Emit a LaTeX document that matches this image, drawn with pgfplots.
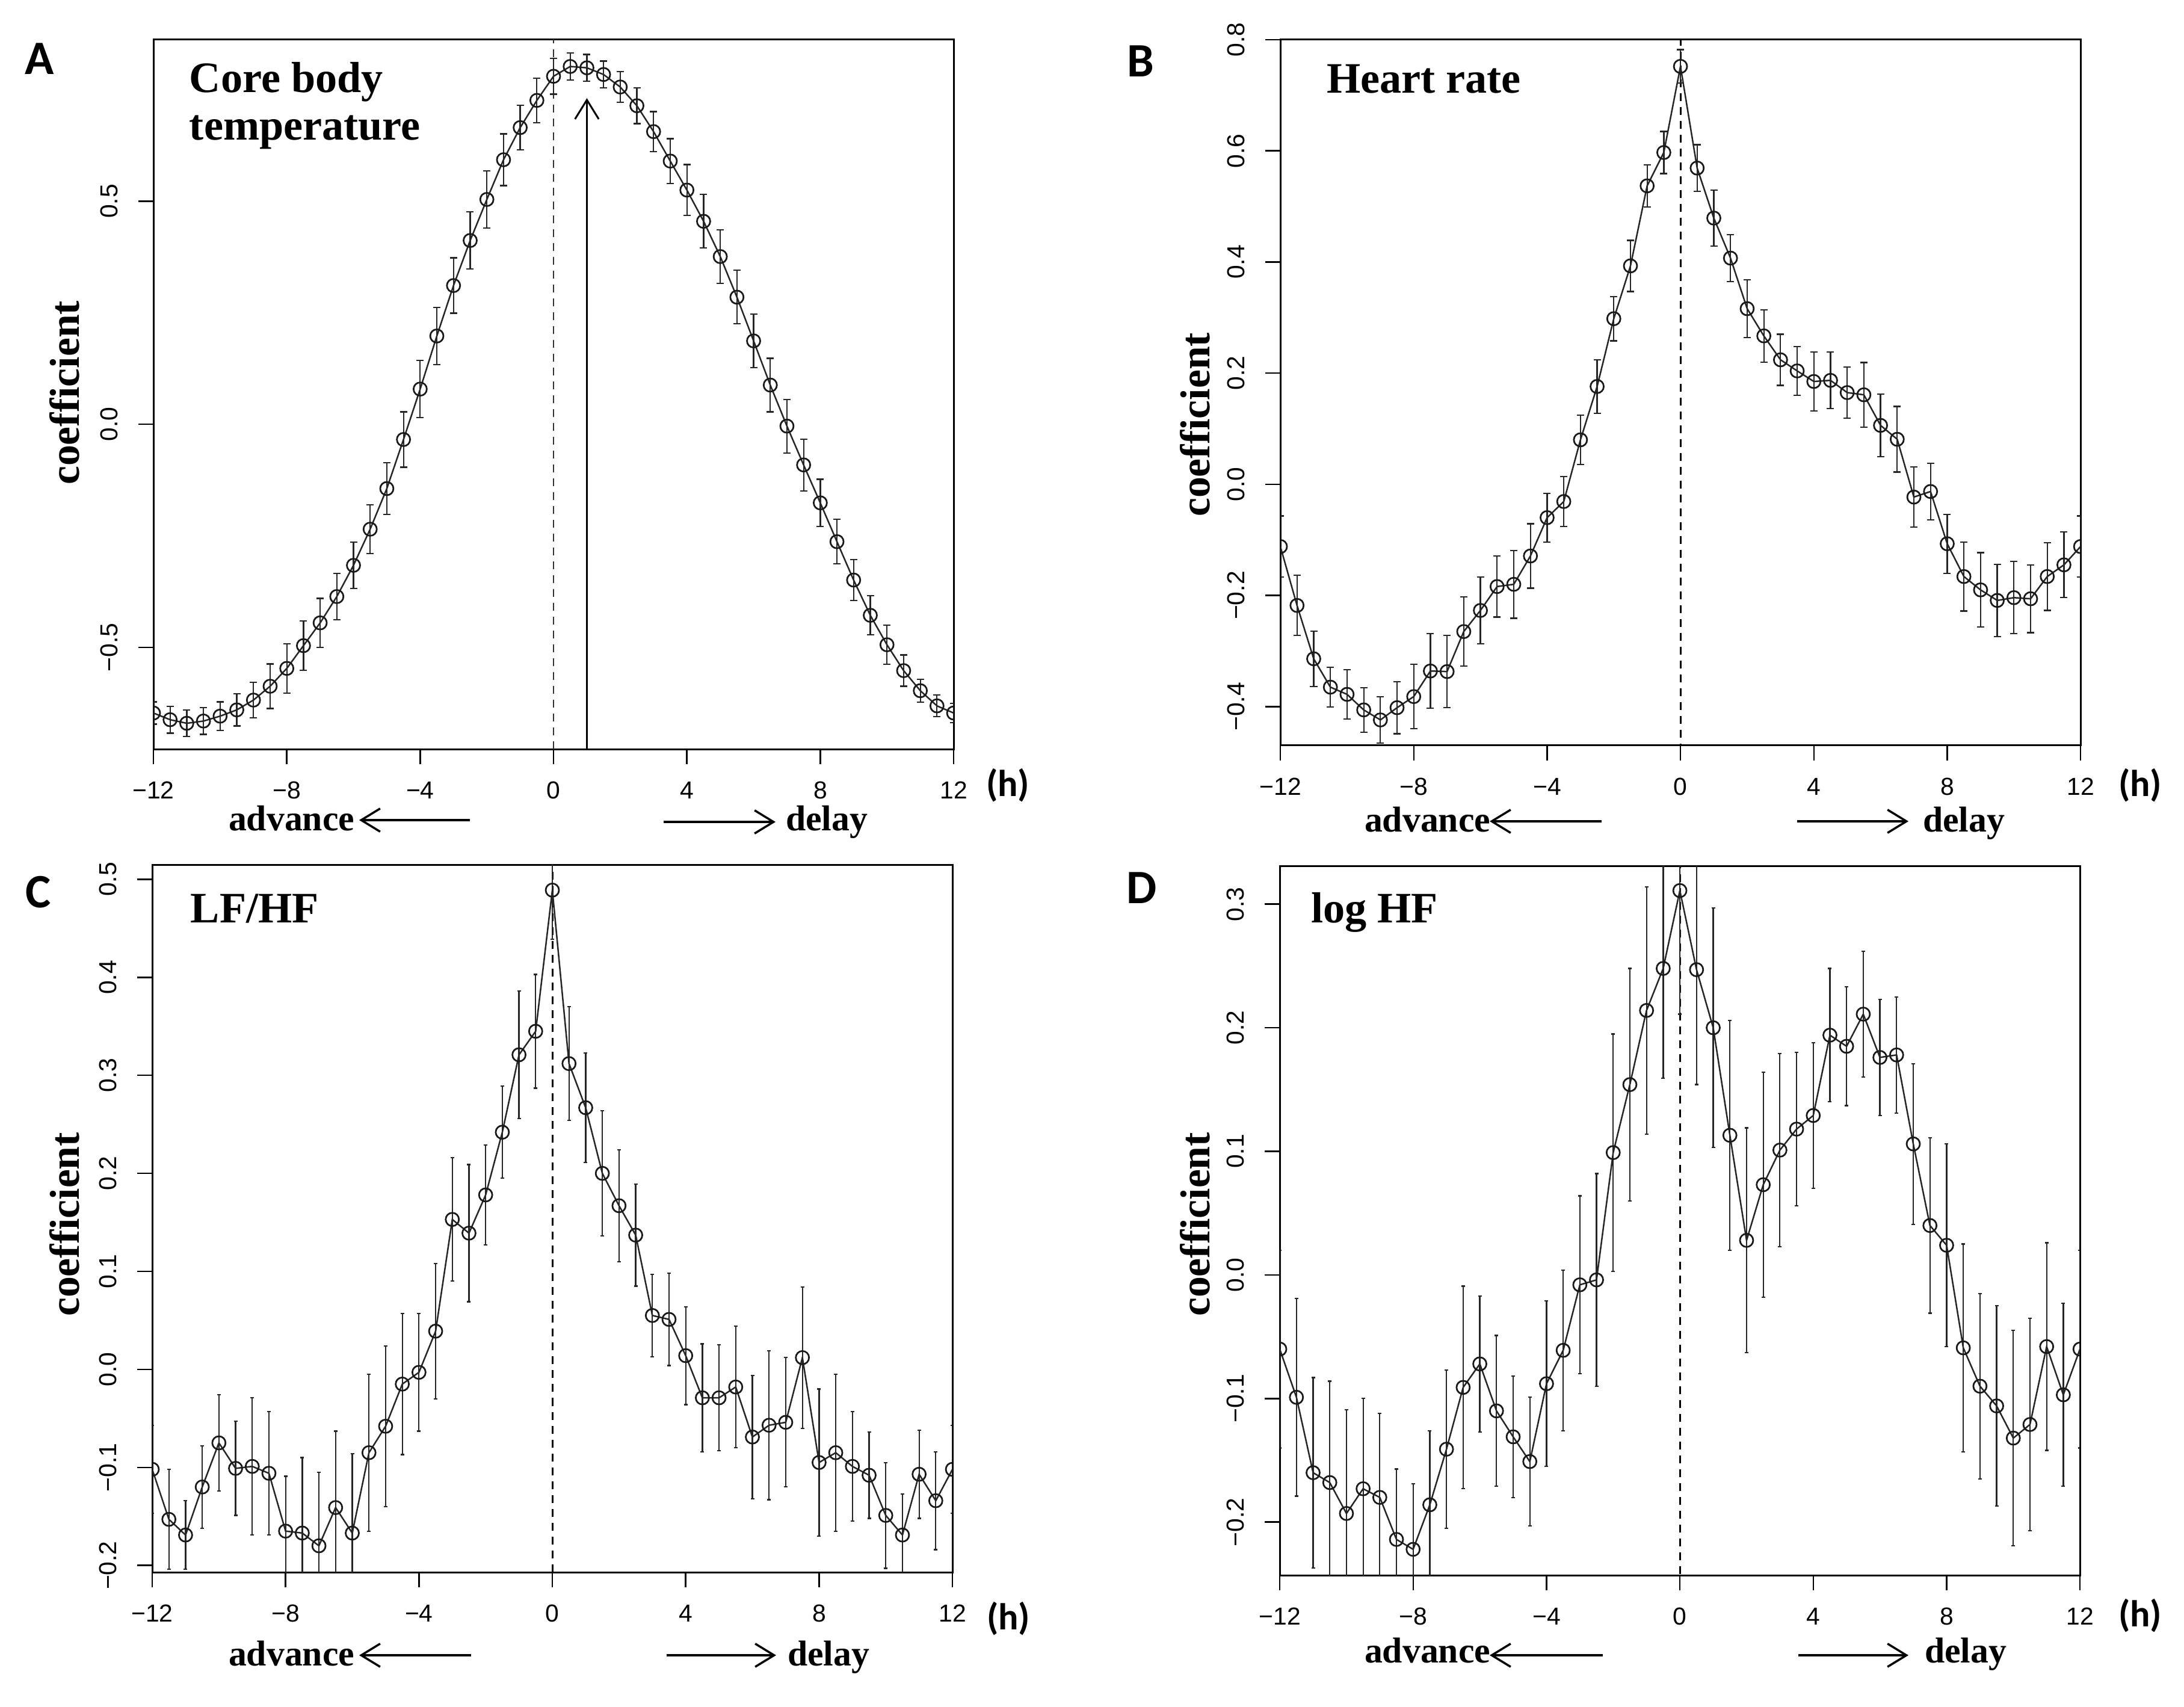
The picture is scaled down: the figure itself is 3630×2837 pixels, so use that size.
\documentclass[border=0pt]{standalone}
\usepackage{fontspec}
\setmainfont{Liberation Serif}
\newfontfamily\tickfont{Liberation Sans}
\newfontfamily\letterfont{Carlito}
\usepackage{pgfplots}
\usepackage{pgfplotstable}
\pgfplotsset{compat=1.18}
\usetikzlibrary{arrows.meta}

\pgfplotstableread{
x y e
-12 -0.647 0.025
-11.5 -0.662 0.03
-11 -0.670 0.03
-10.5 -0.665 0.03
-10 -0.654 0.032
-9.5 -0.640 0.036
-9 -0.618 0.04
-8.5 -0.587 0.05
-8 -0.547 0.055
-7.5 -0.496 0.055
-7 -0.445 0.055
-6.5 -0.386 0.052
-6 -0.316 0.052
-5.5 -0.235 0.055
-5 -0.144 0.058
-4.5 -0.034 0.062
-4 0.079 0.064
-3.5 0.198 0.064
-3 0.311 0.062
-2.5 0.412 0.064
-2 0.504 0.064
-1.5 0.593 0.058
-1 0.665 0.05
-0.5 0.726 0.05
0 0.780 0.04
0.5 0.802 0.03
1 0.799 0.03
1.5 0.784 0.03
2 0.756 0.034
2.5 0.714 0.04
3 0.656 0.045
3.5 0.590 0.05
4 0.525 0.057
4.5 0.455 0.06
5 0.376 0.06
5.5 0.285 0.06
6 0.187 0.06
6.5 0.088 0.06
7 -0.004 0.06
7.5 -0.091 0.058
8 -0.176 0.053
8.5 -0.263 0.05
9 -0.349 0.046
9.5 -0.428 0.044
10 -0.494 0.044
10.5 -0.552 0.035
11 -0.597 0.026
11.5 -0.631 0.024
12 -0.647 0.022
}\dataA

\pgfplotstableread{
x y e
-12 -0.112 0.055
-11.5 -0.218 0.054
-11 -0.314 0.05
-10.5 -0.365 0.036
-10 -0.378 0.044
-9.5 -0.406 0.04
-9 -0.424 0.042
-8.5 -0.402 0.047
-8 -0.382 0.058
-7.5 -0.336 0.067
-7 -0.337 0.065
-6.5 -0.265 0.062
-6 -0.227 0.06
-5.5 -0.184 0.055
-5 -0.180 0.061
-4.5 -0.129 0.058
-4 -0.060 0.044
-3.5 -0.031 0.045
-3 0.080 0.044
-2.5 0.176 0.048
-2 0.298 0.04
-1.5 0.393 0.046
-1 0.537 0.038
-0.5 0.597 0.038
0 0.752 0.03
0.5 0.569 0.042
1 0.479 0.05
1.5 0.407 0.042
2 0.316 0.052
2.5 0.267 0.047
3 0.224 0.046
3.5 0.204 0.044
4 0.185 0.053
4.5 0.187 0.051
5 0.165 0.046
5.5 0.161 0.058
6 0.106 0.056
6.5 0.081 0.059
7 -0.023 0.054
7.5 -0.013 0.051
8 -0.107 0.053
8.5 -0.166 0.062
9 -0.190 0.067
9.5 -0.209 0.065
10 -0.204 0.065
10.5 -0.206 0.061
11 -0.166 0.061
11.5 -0.145 0.059
12 -0.112 0.055
}\dataB

\pgfplotstableread{
x y e
-12 -0.102 0.045
-11.5 -0.153 0.051
-11 -0.169 0.035
-10.5 -0.120 0.042
-10 -0.075 0.049
-9.5 -0.101 0.048
-9 -0.099 0.07
-8.5 -0.106 0.063
-8 -0.165 0.056
-7.5 -0.167 0.077
-7 -0.180 0.075
-6.5 -0.141 0.078
-6 -0.167 0.081
-5.5 -0.085 0.08
-5 -0.058 0.082
-4.5 -0.015 0.072
-4 -0.003 0.06
-3.5 0.039 0.069
-3 0.153 0.063
-2.5 0.139 0.07
-2 0.178 0.051
-1.5 0.242 0.047
-1 0.321 0.065
-0.5 0.345 0.058
0 0.489 0.05
0.5 0.312 0.058
1 0.267 0.056
1.5 0.200 0.064
2 0.167 0.057
2.5 0.137 0.052
3 0.055 0.042
3.5 0.051 0.047
4 0.014 0.05
4.5 -0.029 0.055
5 -0.029 0.054
5.5 -0.018 0.062
6 -0.069 0.063
6.5 -0.057 0.076
7 -0.054 0.066
7.5 0.012 0.072
8 -0.095 0.075
8.5 -0.085 0.08
9 -0.099 0.056
9.5 -0.108 0.044
10 -0.149 0.054
10.5 -0.169 0.042
11 -0.107 0.045
11.5 -0.134 0.05
12 -0.102 0.045
}\dataC

\pgfplotstableread{
x y e
-12 -0.060 0.08
-11.5 -0.099 0.08
-11 -0.160 0.077
-10.5 -0.168 0.082
-10 -0.193 0.084
-9.5 -0.173 0.073
-9 -0.180 0.068
-8.5 -0.214 0.057
-8 -0.222 0.053
-7.5 -0.186 0.06
-7 -0.141 0.064
-6.5 -0.091 0.082
-6 -0.072 0.055
-5.5 -0.110 0.061
-5 -0.131 0.049
-4.5 -0.151 0.052
-4 -0.088 0.067
-3.5 -0.061 0.065
-3 -0.008 0.072
-2.5 -0.004 0.086
-2 0.099 0.096
-1.5 0.154 0.094
-1 0.214 0.1
-0.5 0.248 0.089
0 0.311 0.1
0.5 0.247 0.093
1 0.200 0.097
1.5 0.113 0.093
2 0.028 0.091
2.5 0.073 0.091
3 0.101 0.078
3.5 0.118 0.062
4 0.129 0.059
4.5 0.194 0.054
5 0.185 0.048
5.5 0.211 0.051
6 0.176 0.047
6.5 0.178 0.047
7 0.106 0.065
7.5 0.040 0.071
8 0.024 0.082
8.5 -0.059 0.084
9 -0.090 0.075
9.5 -0.106 0.081
10 -0.132 0.087
10.5 -0.121 0.086
11 -0.058 0.084
11.5 -0.097 0.074
12 -0.060 0.08
}\dataD

\pgfplotsset{
  panel/.style={
    scale only axis, width=266bp,
    anchor=north west,
    xmin=-12, xmax=12,
    xtick={-12,-8,-4,0,4,8,12},
    xticklabels={−12,−8,−4,0,4,8,12},
    xtick pos=bottom, ytick pos=left,
    tick align=outside, major tick length=5bp,
    tick style={line width=0.5bp, black},
    axis line style={line width=0.6bp},
    ticklabel style={font=\tickfont\fontsize{8.2}{8.2}\selectfont, inner sep=0pt},
    xticklabel style={anchor=north},
    yticklabel style={rotate=90, anchor=south},
    xticklabel shift=5.6bp, yticklabel shift=6.6bp,
    clip marker paths=true,
  },
  series/.style={
    black!85, line width=0.5bp,
    mark=o, mark size=2.2bp,
    mark options={fill=white, line width=0.55bp, solid, black!90},
    error bars/.cd, y dir=both, y explicit,
    error bar style={line width=0.45bp, black!85},
    error mark options={rotate=90, line width=0.45bp, mark size=#1, black!85},
  },
  series/.default=1.2bp,
}

\tikzset{
  ttl/.style={font=\bfseries\fontsize{14.5}{15.8}\selectfont, anchor=base west, inner sep=0pt},
  ylab/.style={font=\bfseries\fontsize{14}{14}\selectfont, rotate=90, inner sep=0pt},
  dir/.style={font=\bfseries\fontsize{12}{12}\selectfont, anchor=base west, inner sep=0pt},
  hh/.style={font=\letterfont\bfseries\fontsize{12.5}{12.5}\selectfont, anchor=west, inner sep=0pt},
  let/.style={font=\letterfont\bfseries\fontsize{16}{16}\selectfont, inner sep=0pt},
  harr/.style={line width=0.7bp, -{Straight Barb[length=6.3bp,width=7.7bp,line width=0.7bp]}},
}

\begin{document}
\begin{tikzpicture}[x=0.2bp, y=-0.2bp]
\useasboundingbox (0,0) rectangle (3630,2837);

% ---------- A ----------
\begin{axis}[panel, at={(51bp,-13.2bp)}, height=235.8bp,
  ymin=-0.728, ymax=0.862, ytick={-0.5,0,0.5}, yticklabels={−0.5,0.0,0.5}]
\draw[black!80, line width=0.45bp, dash pattern=on 2.6bp off 2bp] (axis cs:0,-2) -- (axis cs:0,2);
\draw[black, line width=0.6bp, -{Straight Barb[length=6.4bp,width=7.9bp,line width=0.6bp]}] (axis cs:1,-0.728) -- (axis cs:1,0.731);
\addplot[series] table[x=x, y=y, y error=e] {\dataA};
\end{axis}
\node[let] at (66,98) {A};
\node[ttl] at (314,154) {Core body};
\node[ttl] at (314,233) {temperature};
\node[ylab] at (107,653) {coefficient};
\node[hh] at (1638,1305) {(h)};
\node[dir] at (379,1381) {advance};
\draw[harr] (781,1363) -- (597,1363);
\draw[harr] (1103,1366) -- (1289,1366);
\node[dir] at (1305,1381) {delay};

% ---------- B ----------
\begin{axis}[panel, at={(425.6bp,-13.2bp)}, height=234.6bp,
  ymin=-0.470, ymax=0.800, ytick={-0.4,-0.2,0,0.2,0.4,0.6,0.8},
  yticklabels={−0.4,−0.2,0.0,0.2,0.4,0.6,0.8}]
\draw[black, line width=0.6bp, dash pattern=on 2.6bp off 2bp] (axis cs:0,-2) -- (axis cs:0,2);
\addplot[series] table[x=x, y=y, y error=e] {\dataB};
\end{axis}
\node[let] at (1896,102) {B};
\node[ttl] at (2204,155) {Heart rate};
\node[ylab] at (1986,706) {coefficient};
\node[hh] at (3520,1305) {(h)};
\node[dir] at (2267,1383) {advance};
\draw[harr] (2662,1365) -- (2476,1365);
\draw[harr] (2987,1365) -- (3172,1365);
\node[dir] at (3195,1383) {delay};

% ---------- C ----------
\begin{axis}[panel, at={(50.6bp,-287.4bp)}, height=235.2bp,
  ymin=-0.207, ymax=0.515, ytick={-0.2,-0.1,0,0.1,0.2,0.3,0.4,0.5},
  yticklabels={−0.2,−0.1,0.0,0.1,0.2,0.3,0.4,0.5}]
\draw[black, line width=0.6bp, dash pattern=on 2.6bp off 2bp] (axis cs:0,-2) -- (axis cs:0,2);
\addplot[series=0.6bp] table[x=x, y=y, y error=e] {\dataC};
\end{axis}
\node[let] at (64,1483) {C};
\node[ttl] at (316,1534) {LF/HF};
\node[ylab] at (107,2035) {coefficient};
\node[hh] at (1639,2690) {(h)};
\node[dir] at (379,2768) {advance};
\draw[harr] (783,2751) -- (597,2751);
\draw[harr] (1108,2751) -- (1290,2751);
\node[dir] at (1308,2768) {delay};

% ---------- D ----------
\begin{axis}[panel, at={(425.4bp,-287.8bp)}, height=235.8bp,
  ymin=-0.243, ymax=0.331, ytick={-0.2,-0.1,0,0.1,0.2,0.3},
  yticklabels={−0.2,−0.1,0.0,0.1,0.2,0.3}]
\draw[black, line width=0.6bp, dash pattern=on 2.6bp off 2bp] (axis cs:0,-2) -- (axis cs:0,2);
\addplot[series=0.6bp] table[x=x, y=y, y error=e] {\dataD};
\end{axis}
\node[let] at (1898,1476) {D};
\node[ttl] at (2178,1534) {log HF};
\node[ylab] at (1986,2035) {coefficient};
\node[hh] at (3520,2685) {(h)};
\node[dir] at (2267,2763) {advance};
\draw[harr] (2664,2751) -- (2476,2751);
\draw[harr] (2989,2751) -- (3172,2751);
\node[dir] at (3198,2763) {delay};
\end{tikzpicture}
\end{document}
